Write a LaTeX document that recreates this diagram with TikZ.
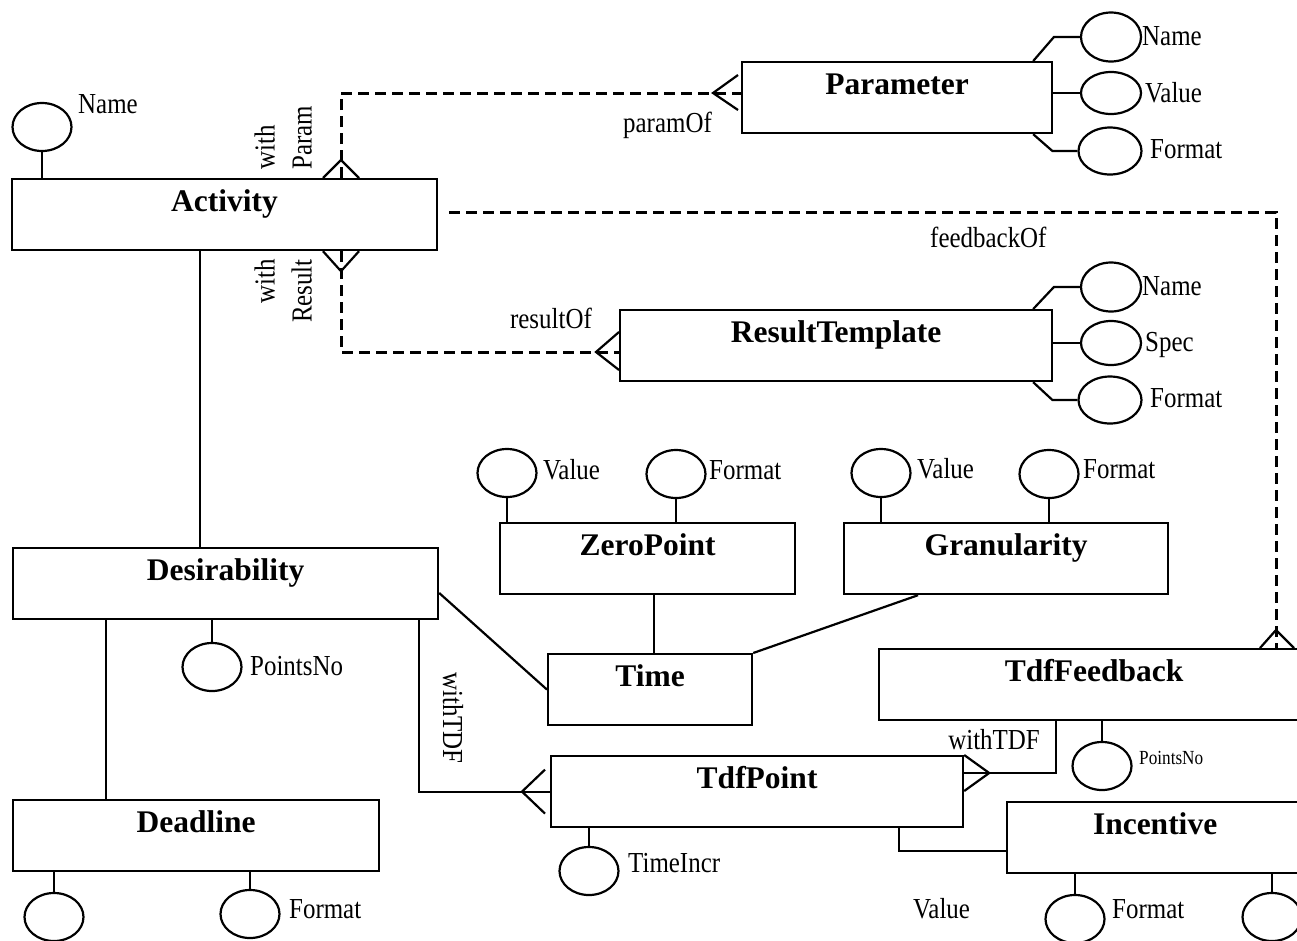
\documentclass[tikz,border=0pt]{standalone}
\usepackage{fontspec}
\setmainfont{Liberation Serif}
\newfontfamily\narrowserif[FakeStretch=0.86]{Liberation Serif}
\usetikzlibrary{shapes.geometric,calc}
\tikzset{
  entity/.style={draw,line width=2.2pt,rectangle,anchor=north west,
    inner xsep=0pt,inner ysep=0pt,minimum height=71pt,
    text height=32pt,text depth=39pt,
    font=\fontsize{31.5}{34}\selectfont\bfseries},
  attr/.style={draw,ellipse,line width=2.2pt,minimum width=59pt,
    minimum height=48pt,inner sep=0pt},
  lbl/.style={inner sep=0pt,font=\fontsize{29}{37}\selectfont\narrowserif},
  small lbl/.style={inner sep=0pt,font=\fontsize{20}{24}\selectfont\narrowserif},
  link/.style={line width=2.2pt},
  optrel/.style={line width=3pt,dash pattern=on 11pt off 6pt},
}
\begin{document}
\begin{tikzpicture}[x=1pt,y=-1pt]
\clip (0,0) rectangle (1297,940);
\fill[white] (0,0) rectangle (1297,940);

% entities
\node[entity,minimum width=425pt] (act)  at (11,178)  {Activity};
\node[entity,minimum width=310pt] (par)  at (741,61)  {Parameter};
\node[entity,minimum width=432pt] (res)  at (619,309) {ResultTemplate};
\node[entity,minimum width=425pt] (des)  at (12,547)  {Desirability};
\node[entity,minimum width=366pt] (dead) at (12,799)  {Deadline};
\node[entity,minimum width=295pt] (zero) at (499,522) {ZeroPoint};
\node[entity,minimum width=324pt] (gran) at (843,522) {Granularity};
\node[entity,minimum width=204pt] (time) at (547,653) {Time};
\node[entity,minimum width=412pt] (tdfp) at (550,755) {TdfPoint};
\node[entity,minimum width=430pt] (tdff) at (878,648) {TdfFeedback};
\node[entity,minimum width=296pt] (inc)  at (1006,801) {Incentive};

% attributes
\node[attr] (actN) at (42,127) {};
\node[attr,minimum width=60pt,minimum height=49pt] (parN) at (1111,37) {};
\node[attr,minimum width=60pt,minimum height=42pt] (parV) at (1111,93) {};
\node[attr,minimum width=63pt,minimum height=47pt] (parF) at (1110,151) {};
\node[attr,minimum width=60pt,minimum height=49pt] (resN) at (1111,287) {};
\node[attr,minimum width=60pt,minimum height=44pt] (resS) at (1111,343) {};
\node[attr,minimum width=63pt,minimum height=47pt] (resF) at (1110,400) {};
\node[attr] (zeroV) at (507,473) {};
\node[attr] (zeroF) at (676,474) {};
\node[attr] (granV) at (881,473) {};
\node[attr] (granF) at (1049,474) {};
\node[attr] (desP)  at (212,667) {};
\node[attr] (tdffP) at (1102,766) {};
\node[attr] (tdfpT) at (589,871) {};
\node[attr] (deadA) at (54,917) {};
\node[attr] (deadF) at (250,914) {};
\node[attr] (incF)  at (1075,919) {};
\node[attr] (incA)  at (1272,917) {};

% attribute names
\node[lbl,anchor=base west] at (78,113)   {Name};
\node[lbl,anchor=base west] at (1142,45)  {Name};
\node[lbl,anchor=base west] at (1145,102) {Value};
\node[lbl,anchor=base west] at (1150,158) {Format};
\node[lbl,anchor=base west] at (1142,295) {Name};
\node[lbl,anchor=base west] at (1145,351) {Spec};
\node[lbl,anchor=base west] at (1150,407) {Format};
\node[lbl,anchor=base west] at (543,479)  {Value};
\node[lbl,anchor=base west] at (709,479)  {Format};
\node[lbl,anchor=base west] at (917,478)  {Value};
\node[lbl,anchor=base west] at (1083,478) {Format};
\node[lbl,anchor=base west] at (250,675)  {PointsNo};
\node[small lbl,anchor=base west] at (1139,764) {PointsNo};
\node[lbl,anchor=base west] at (628,872)  {TimeIncr};
\node[lbl,anchor=base west] at (289,918)  {Format};
\node[lbl,anchor=base west] at (1112,918) {Format};
\node[lbl,anchor=base west] at (913,918)  {Value};

% attribute links
\draw[link] (actN.south) -- (actN.south |- act.north);
\draw[link] ($(par.north east)+(-20,0)$) -- ($(parN.west)+(-26,0)$) -- (parN.west);
\draw[link] (parV.west -| par.east) -- (parV.west);
\draw[link] ($(par.south east)+(-20,0)$) -- ($(parF.west)+(-25,0)$) -- (parF.west);
\draw[link] ($(res.north east)+(-20,0)$) -- ($(resN.west)+(-26,0)$) -- (resN.west);
\draw[link] (resS.west -| res.east) -- (resS.west);
\draw[link] ($(res.south east)+(-20,0)$) -- ($(resF.west)+(-25,0)$) -- (resF.west);
\draw[link] (zeroV.south) -- (zeroV.south |- zero.north);
\draw[link] (zeroF.south) -- (zeroF.south |- zero.north);
\draw[link] (granV.south) -- (granV.south |- gran.north);
\draw[link] (granF.south) -- (granF.south |- gran.north);
\draw[link] (desP.north) -- (desP.north |- des.south);
\draw[link] (tdffP.north) -- (tdffP.north |- tdff.south);
\draw[link] (tdfpT.north) -- (tdfpT.north |- tdfp.south);
\draw[link] (deadA.north) -- (deadA.north |- dead.south);
\draw[link] (deadF.north) -- (deadF.north |- dead.south);
\draw[link] (incF.north) -- (incF.north |- inc.south);
\draw[link] (incA.north) -- (incA.north |- inc.south);

% mandatory relationships
\draw[link] (act.south -| 200,0) -- (des.north -| 200,0);
\draw[link] (des.south -| 106,0) -- (dead.north -| 106,0);
\draw[link] ($(des.north east)+(0,46)$) -- (time.west);
\draw[link] (zero.south -| 654,0) -- (time.north -| 654,0);
\draw[link] (gran.south -| 918,0) -- (time.north east);
\draw[link] (des.south -| 419,0) |- (tdfp.west);
\draw[link] ($(tdfp.west)+(-5,-22)$) -- ($(tdfp.west)+(-28,0)$) -- ($(tdfp.west)+(-5,22)$);
\draw[link] (tdff.south -| 1056,0) |- ($(tdfp.north east)+(0,18)$);
\draw[link] (tdfp.north east) -- ($(tdfp.north east)+(25,18)$) -- ($(tdfp.north east)+(0,36)$);
\draw[link] (tdfp.south -| 899,0) |- ($(inc.north west)+(0,50)$);

% optional relationships
\draw[optrel] (act.north -| 341,0) |- ($(par.north west)+(0,32)$);
\draw[link] ($(par.north west)+(-3,14)$) -- ($(par.north west)+(-28,32)$) -- ($(par.north west)+(-3,49)$);
\draw[link] ($(act.north west)+(312,0)$) -- ++(18,-18) -- ++(18,18);
\draw[optrel] (act.south -| 341,0) |- ($(res.north west)+(0,43)$);
\draw[link] ($(res.north west)+(0,23)$) -- ($(res.north west)+(-23,43)$) -- ($(res.north west)+(0,61)$);
\draw[link] ($(act.south west)+(312,0)$) -- ++(18,20) -- ++(18,-20);
\draw[optrel] ($(act.north east)+(11,34)$) -| (tdff.north -| 1276,0);
\draw[link] ($(tdff.north west)+(382,0)$) -- ($(tdff.north west)+(398,-18)$) -- ($(tdff.north west)+(416,0)$);

% relationship names
\node[lbl,rotate=90,anchor=south west,align=left] at (312,170) {with\\Param};
\node[lbl,rotate=90,anchor=south east,align=right] at (312,259) {with\\Result};
\node[lbl,anchor=base east] at (712,132) {paramOf};
\node[lbl,anchor=base east] at (592,328) {resultOf};
\node[lbl,anchor=base west] at (930,247) {feedbackOf};
\node[lbl,anchor=base east] at (1040,749) {withTDF};
\node[lbl,rotate=-90,anchor=base west] at (443,672) {withTDF};
\end{tikzpicture}
\end{document}
